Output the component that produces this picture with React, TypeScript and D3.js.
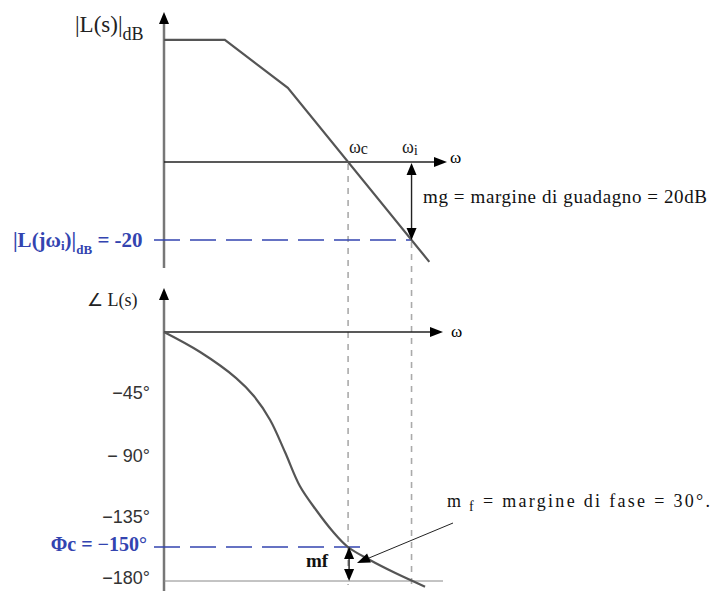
import React from "react";
import * as d3 from "d3";

// Asymptotic magnitude (x = log10 ω, y = dB)
const MAG_LOGW = [0, 0.86, 1.75, 3.75];
const MAG_DB = [31.3, 31.3, 19, -25.6];

// Phase curve (x = log10 ω, y = degrees)
const PHASE_LOGW = [0, 0.51, 1.02, 1.27, 1.5, 1.71, 1.92, 2.15, 2.38, 2.6, 2.91, 3.27, 3.69];
const PHASE_DEG = [0, -14.6, -33.6, -46.7, -64.2, -87.6, -112.4, -129.9, -142, -150, -161.5, -173, -185];

const PHASE_TICKS = [-45, -90, -135, -180];
const PHASE_TICK_LABELS = ["\u221245\u00b0", "\u2212 90\u00b0", "\u2212135\u00b0", "\u2212180\u00b0"];

const GAIN_AT_WI = -20;
const PHI_C = -150;
const PHASE_LIMIT = -180;

const W = 714;
const H = 591;

const x = d3.scaleLinear().domain([0, 4]).range([164, 447]);
const yMag = d3.scaleLinear().domain([0, -20]).range([162, 240]);
const yPh = d3.scaleLinear().domain([0, -135, -150, -180]).range([332, 517, 547, 581]);

// ω where the magnitude asymptote crosses a given dB level
function crossing(level: number): number {
  for (let i = 0; i < MAG_DB.length - 1; i++) {
    const a = MAG_DB[i], b = MAG_DB[i + 1];
    if ((a - level) * (b - level) <= 0 && a !== b) {
      const t = (level - a) / (b - a);
      return MAG_LOGW[i] + t * (MAG_LOGW[i + 1] - MAG_LOGW[i]);
    }
  }
  return NaN;
}

const wc = crossing(0);
const wi = crossing(GAIN_AT_WI);

const BLUE = "#3344b0";
const CURVE = "#555";
const SERIF = "'Liberation Serif', 'Times New Roman', serif";
const SANS = "'Liberation Sans', Arial, sans-serif";

function ArrowUp({ cx, tip }: { cx: number; tip: number }) {
  return <path d={`M${cx},${tip} L${cx - 5},${tip + 12} L${cx + 5},${tip + 12} Z`} fill="#000" />;
}
function ArrowDown({ cx, tip }: { cx: number; tip: number }) {
  return <path d={`M${cx},${tip} L${cx - 5},${tip - 12} L${cx + 5},${tip - 12} Z`} fill="#000" />;
}
function ArrowRight({ tipX, cy }: { tipX: number; cy: number }) {
  return <path d={`M${tipX},${cy} L${tipX - 13},${cy - 5} L${tipX - 13},${cy + 5} Z`} fill="#000" />;
}

export default function App() {
  const magLine = d3
    .line<number>()
    .x((_, i) => x(MAG_LOGW[i]))
    .y((d) => yMag(d));
  const phaseLine = d3
    .line<number>()
    .x((_, i) => x(PHASE_LOGW[i]))
    .y((d) => yPh(d))
    .curve(d3.curveCatmullRom.alpha(0.5));

  const x0 = x(0);
  const xWc = x(wc);
  const xWi = x(wi);
  const yZeroMag = yMag(0);
  const yGain = yMag(GAIN_AT_WI);
  const yPhiC = yPh(PHI_C);
  const yLimit = yPh(PHASE_LIMIT);
  const yZeroPh = yPh(0);

  // annotation pointer for the phase margin
  const ax1 = 453, ay1 = 523;
  const ax2 = 357, ay2 = 563;
  const ang = Math.atan2(ay2 - ay1, ax2 - ax1);
  const hl = 13, hw = 5;
  const bx = ax2 - hl * Math.cos(ang), by = ay2 - hl * Math.sin(ang);
  const head = `M${ax2},${ay2} L${bx + hw * Math.sin(ang)},${by - hw * Math.cos(ang)} L${bx - hw * Math.sin(ang)},${by + hw * Math.cos(ang)} Z`;

  return (
    <svg
      width={W}
      height={H}
      viewBox={`0 0 ${W} ${H}`}
      style={{ position: "absolute", left: 0, top: 0, background: "#fff" }}
    >
      {/* ---------- magnitude plot ---------- */}
      <line x1={x0} x2={x0} y1={22} y2={268} stroke="#777" strokeWidth={2.5} />
      <ArrowUp cx={x0} tip={12} />
      <line x1={x0} x2={436} y1={yZeroMag} y2={yZeroMag} stroke="#222" strokeWidth={1.5} />
      <ArrowRight tipX={447} cy={yZeroMag} />
      <text x={450} y={163} fontFamily={SERIF} fontSize={17}>ω</text>

      <text x={75} y={32} fontFamily={SERIF} fontSize={23} fill="#222">
        |L(s)|<tspan fontSize={18} dy={8}>dB</tspan>
      </text>

      <text x={349} y={153} fontFamily={SERIF} fontSize={18} fill="#222">
        ω<tspan fontSize={16} dy={1}>c</tspan>
      </text>
      <text x={402} y={153} fontFamily={SERIF} fontSize={18} fill="#222">
        ω<tspan fontSize={15} dy={2}>i</tspan>
      </text>

      {/* crossover dashed verticals */}
      <line x1={xWc} x2={xWc} y1={yZeroMag + 2} y2={yLimit + 4} stroke="#aaa" strokeWidth={1.6} strokeDasharray="6 6" />
      <line x1={xWi} x2={xWi} y1={yGain + 2} y2={yLimit + 4} stroke="#aaa" strokeWidth={1.6} strokeDasharray="6 6" />

      {/* -20 dB level */}
      <line x1={154} x2={xWi} y1={yGain} y2={yGain} stroke={BLUE} strokeWidth={1.4} strokeDasharray="26 10" />
      <text x={13} y={247} fontFamily={SERIF} fontSize={21} fontWeight="bold" fill={BLUE}>
        |L(jω<tspan fontSize={13} dy={3}>i</tspan><tspan dy={-3}>)|</tspan>
        <tspan fontSize={13} dy={7}>dB</tspan>
        <tspan dy={-7}> = -20</tspan>
      </text>

      <path d={magLine(MAG_DB) ?? ""} fill="none" stroke={CURVE} strokeWidth={2.2} />

      {/* gain margin arrow */}
      <line x1={xWi} x2={xWi} y1={yZeroMag + 10} y2={yGain - 10} stroke="#222" strokeWidth={1.4} />
      <ArrowUp cx={xWi} tip={yZeroMag + 1} />
      <ArrowDown cx={xWi} tip={yGain} />
      <text x={423} y={203} fontFamily={SERIF} fontSize={19} fill="#111" textLength={284} lengthAdjust="spacing">
        mg = margine di guadagno = 20dB
      </text>

      {/* ---------- phase plot ---------- */}
      <line x1={x0} x2={x0} y1={296} y2={H} stroke="#777" strokeWidth={2.5} />
      <ArrowUp cx={x0} tip={288} />
      <line x1={x0} x2={432} y1={yZeroPh} y2={yZeroPh} stroke="#222" strokeWidth={1.5} />
      <ArrowRight tipX={443} cy={yZeroPh} />
      <text x={451} y={337} fontFamily={SERIF} fontSize={17}>ω</text>

      <text x={87} y={306} fontFamily={SERIF} fontSize={18} fill="#222">∠ L(s)</text>

      {PHASE_TICKS.map((t, i) => (
        <text key={t} x={150} y={yPh(t) + (t === -90 ? 7 : t === -135 ? 6 : t === -180 ? 3 : 5)} textAnchor="end" fontFamily={SANS} fontSize={18} fill="#333">
          {PHASE_TICK_LABELS[i]}
        </text>
      ))}

      <line x1={x0} x2={443} y1={yLimit} y2={yLimit} stroke="#888" strokeWidth={1} />

      <line x1={154} x2={363} y1={yPhiC} y2={yPhiC} stroke={BLUE} strokeWidth={1.4} strokeDasharray="26 10" />
      <text x={147} y={551} textAnchor="end" fontFamily={SERIF} fontSize={20} fontWeight="bold" fill={BLUE}>
        Φc = −150°
      </text>

      <path d={phaseLine(PHASE_DEG) ?? ""} fill="none" stroke={CURVE} strokeWidth={2.2} />

      {/* phase margin arrow */}
      <line x1={xWc + 1} x2={xWc + 1} y1={yPhiC + 8} y2={yLimit - 8} stroke="#222" strokeWidth={1.4} />
      <ArrowUp cx={xWc + 1} tip={yPhiC} />
      <ArrowDown cx={xWc + 1} tip={yLimit} />
      <text x={306} y={567} fontFamily={SERIF} fontSize={19} fontWeight="bold" fill="#111">mf</text>

      <line x1={ax1} y1={ay1} x2={bx} y2={by} stroke="#222" strokeWidth={1} />
      <path d={head} fill="#000" />

      <text x={447} y={507} fontFamily={SERIF} fontSize={18} fill="#111" textLength={263} lengthAdjust="spacing">
        m<tspan fontSize={14} dy={4}> f</tspan><tspan dy={-4}> = margine di fase = 30°.</tspan>
      </text>
    </svg>
  );
}
